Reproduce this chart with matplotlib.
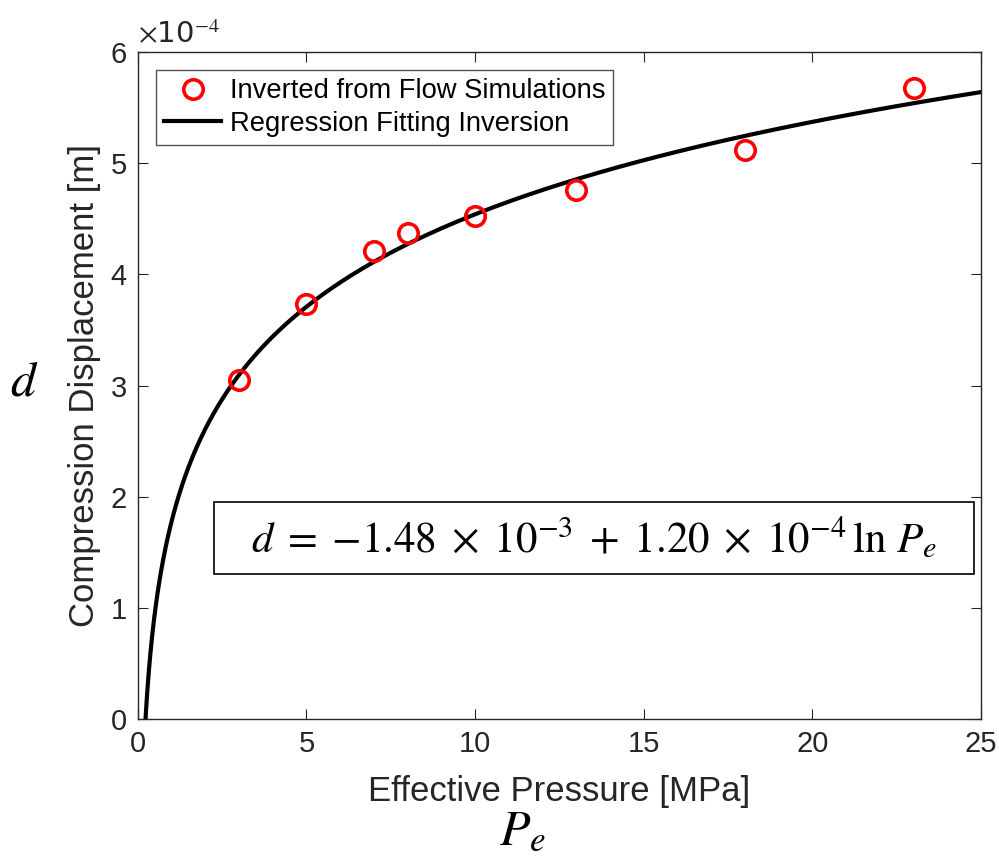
import numpy as np
import matplotlib
matplotlib.use("Agg")
import matplotlib.pyplot as plt
from matplotlib.patches import Rectangle

# Data
pe_points = [3, 5, 7, 8, 10, 13, 18, 23]          # MPa
d_points = [3.05, 3.73, 4.21, 4.37, 4.53, 4.76, 5.12, 5.68]  # x1e-4 m

# Regression coefficients (d = a + b ln Pe, Pe in Pa)
coef_a = -1.48e-3
coef_b = 1.20e-4

x_ticks = [0, 5, 10, 15, 20, 25]
y_ticks = [0, 1, 2, 3, 4, 5, 6]

plt.rcParams['font.family'] = ['Liberation Sans', 'DejaVu Sans']
plt.rcParams['mathtext.fontset'] = 'stix'
gray = '#262626'

fig = plt.figure(figsize=(9.99, 8.56), dpi=100)
ax = fig.add_axes([0.138, 0.160, 0.844, 0.779])

# fitted curve
pe_fit = np.linspace(0.2, 25, 2000)
d_fit = (coef_a + coef_b * np.log(pe_fit * 1e6)) * 1e4
ax.plot(pe_fit, d_fit, color='black', lw=3.0, label='Regression Fitting Inversion', zorder=2)
ax.plot(pe_points, d_points, 'o', mfc='none', mec='red', ms=14, mew=2.6,
        label='Inverted from Flow Simulations', zorder=3)

ax.set_xlim(0, 25)
ax.set_ylim(0, 6)
ax.set_xticks(x_ticks)
ax.set_yticks(y_ticks)
ax.tick_params(direction='in', top=True, right=True, length=7, width=0.8,
               labelsize=21, colors=gray, pad=8)
for s in ax.spines.values():
    s.set_color(gray)
    s.set_linewidth(1.0)

ax.set_xlabel('Effective Pressure [MPa]', fontsize=25, color=gray, labelpad=12)
ax.set_ylabel('Compression Displacement [m]', fontsize=25, color=gray, labelpad=7)
ax.text(0.0, 1.005, r'$\times$10$^{-4}$', transform=ax.transAxes, fontsize=21,
        color=gray, ha='left', va='bottom', family='DejaVu Sans')

# legend: circle first, line second
h, l = ax.get_legend_handles_labels()
leg = ax.legend(h[::-1], l[::-1], loc='upper left', fontsize=19.7, frameon=True,
                fancybox=False, edgecolor=gray, borderaxespad=0.65,
                handlelength=2.1, labelspacing=0.25, borderpad=0.3, handletextpad=0.3)
leg.get_frame().set_linewidth(1.0)
for t in leg.get_texts():
    t.set_color('black')

# equation box
ax.add_patch(Rectangle((0.090, 0.217), 0.902, 0.108, transform=ax.transAxes,
                       fc='white', ec='black', lw=1.2, zorder=4))
ax.text(0.541, 0.271,
        r'$d\;=\;{-}1.48\;\times\;10^{-3}\;+\;1.20\;\times\;10^{-4}\,\ln\,P_e$',
        transform=ax.transAxes, fontsize=31, ha='center', va='center', zorder=5)

# outside symbols
fig.text(0.024, 0.553, r'$d$', fontsize=36, ha='center', va='center')
fig.text(0.523, 0.002, r'$P_e$', fontsize=36, ha='center', va='bottom')

plt.savefig('out.png', dpi=100)
